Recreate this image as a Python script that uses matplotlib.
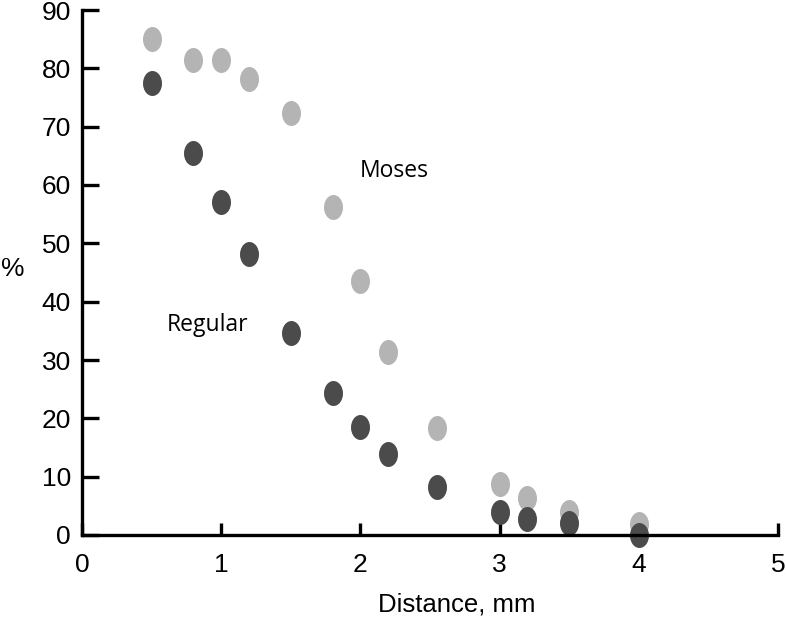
import matplotlib.pyplot as plt
from matplotlib.markers import MarkerStyle
from matplotlib.transforms import Affine2D

# distance (mm) and percentage for the two groups
distance = [0.5, 0.8, 1.0, 1.2, 1.5, 1.8, 2.0, 2.2, 2.55, 3.0, 3.2, 3.5, 4.0]
moses = [85.1, 81.4, 81.4, 78.2, 72.3, 56.2, 43.5, 31.4, 18.3, 8.8, 6.4, 3.9, 1.9]
regular = [77.5, 65.4, 57.1, 48.2, 34.7, 24.3, 18.6, 13.9, 8.2, 4.0, 2.8, 2.0, 0.0]

xticks = [0, 1, 2, 3, 4, 5]
yticks = [0, 10, 20, 30, 40, 50, 60, 70, 80, 90]

plt.rcParams['font.family'] = ['Liberation Sans', 'DejaVu Sans']

fig = plt.figure(figsize=(7.86, 6.27), dpi=100)
ax = fig.add_axes([82 / 786, 92 / 627, 696 / 786, 525 / 627])

# tall ellipse markers like the original
oval = MarkerStyle('o', transform=Affine2D().scale(0.76, 1.0))

ax.plot(distance, moses, linestyle='none', marker=oval, markersize=18,
        color='#b4b4b4', markeredgewidth=0, clip_on=False)
ax.plot(distance, regular, linestyle='none', marker=oval, markersize=18,
        color='#4b4b4b', markeredgewidth=0, clip_on=False)

label_font = ['Open Sans', 'DejaVu Sans']
ax.text(2.24, 62.4, 'Moses', fontsize=16.5, family=label_font,
        ha='center', va='center')
ax.text(0.9, 36.0, 'Regular', fontsize=16.5, family=label_font,
        ha='center', va='center')

ax.set_xlim(0, 5)
ax.set_ylim(0, 90)
ax.set_xticks(xticks)
ax.set_yticks(yticks)
ax.set_xticklabels([str(t) for t in xticks])
ax.set_yticklabels([str(t) for t in yticks])

for side in ['top', 'right']:
    ax.spines[side].set_visible(False)
for side in ['left', 'bottom']:
    ax.spines[side].set_linewidth(2.4)

ax.tick_params(axis='y', direction='in', length=12, width=2.4, pad=8, labelsize=19)
ax.tick_params(axis='x', direction='in', length=9, width=2.4, pad=13, labelsize=19)

ax.set_xlabel('Distance, mm', fontsize=18.5, va='center')
ax.xaxis.set_label_coords(0.538, -0.133)
ax.set_ylabel('%', fontsize=19, rotation=0, va='center', ha='center')
ax.yaxis.set_label_coords(-0.1, 0.507)

fig.savefig('out.png', dpi=100)
